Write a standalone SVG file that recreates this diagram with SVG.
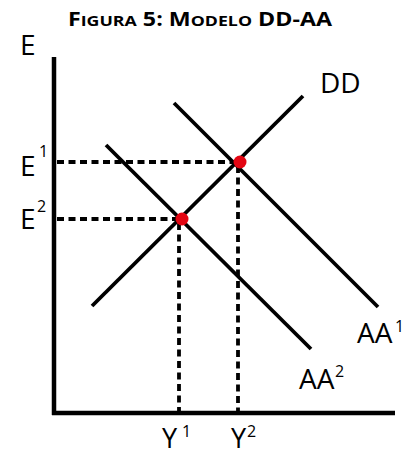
<svg xmlns="http://www.w3.org/2000/svg" width="406" height="456" viewBox="0 0 406 456">
<style>
.axis{stroke:#000;stroke-width:4.5;fill:none}
.curve{stroke:#000;stroke-width:3.8;fill:none}
.dash{stroke:#000;stroke-width:3.8;stroke-dasharray:7 4.5;fill:none}
.dot{fill:#e30613}
.lbl{font-family:"Open Sans","Noto Sans",sans-serif;font-size:28px;fill:#000}
.ylbl{font-family:"Open Sans","Noto Sans",sans-serif;font-size:27px;fill:#000}
.sup{font-family:"Open Sans","Noto Sans",sans-serif;font-size:16px;fill:#000}
.title{font-family:"Open Sans","Noto Sans",sans-serif;font-weight:bold;fill:#000}
</style>
<rect width="406" height="456" fill="#fff"/>
<g id="title">
<text class="title" x="200" y="26" text-anchor="middle" textLength="264" lengthAdjust="spacingAndGlyphs"><tspan font-size="19">F</tspan><tspan font-size="14.5">IGURA</tspan><tspan font-size="19"> 5: M</tspan><tspan font-size="14.5">ODELO</tspan><tspan font-size="19"> DD-AA</tspan></text>
</g>
<g id="axes">
<line class="axis" x1="54" y1="57" x2="54" y2="415"/>
<line class="axis" x1="52" y1="413" x2="395" y2="413"/>
<text class="lbl" x="20" y="55">E</text>
</g>
<g id="connectors">
<line class="dash" x1="57" y1="162" x2="238" y2="162"/>
<line class="dash" x1="57" y1="219" x2="180" y2="219"/>
<line class="dash" x1="238" y1="166" x2="238" y2="411"/>
<line class="dash" x1="179" y1="223" x2="179" y2="411"/>
</g>
<g id="DD">
<line class="curve" x1="92" y1="306" x2="303" y2="96"/>
<text class="lbl" x="320" y="93">DD</text>
</g>
<g id="AA1">
<line class="curve" x1="174" y1="103" x2="378" y2="307"/>
<text class="lbl" x="357" y="343">AA</text>
<text class="sup" x="395" y="332">1</text>
</g>
<g id="AA2">
<line class="curve" x1="106" y1="145" x2="311" y2="349"/>
<text class="lbl" x="299" y="389">AA</text>
<text class="sup" x="335" y="377">2</text>
</g>
<g id="eq1">
<circle class="dot" cx="240" cy="162" r="6.5"/>
<text class="lbl" x="20" y="176">E</text>
<text class="sup" x="39" y="157">1</text>
<text class="ylbl" x="162" y="448">Y</text>
<text class="sup" x="182" y="437">1</text>
</g>
<g id="eq2">
<circle class="dot" cx="182" cy="219" r="6.5"/>
<text class="lbl" x="20" y="229">E</text>
<text class="sup" x="37" y="212">2</text>
<text class="ylbl" x="231" y="448">Y</text>
<text class="sup" x="247" y="437">2</text>
</g>
</svg>
